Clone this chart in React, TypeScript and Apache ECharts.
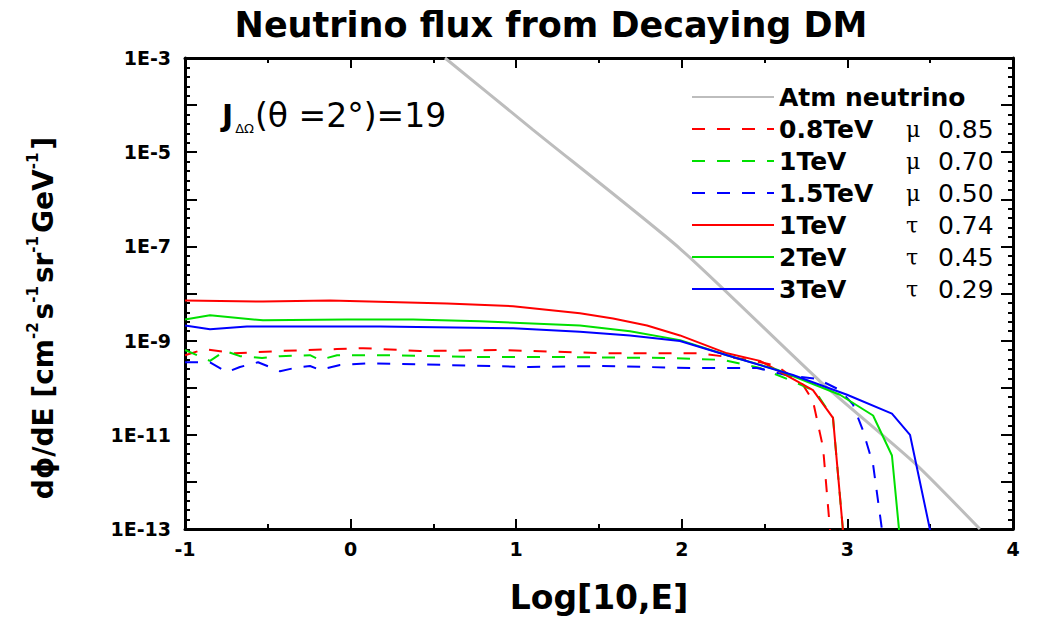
import React, { useEffect, useRef } from "react";
import * as echarts from "echarts";

const SANS = "'DejaVu Sans', Verdana, sans-serif";
const SERIF = "'DejaVu Serif', 'Liberation Serif', serif";

// Every point is [log10(E / GeV), log10(dϕ/dE)].
const atmNeutrino: number[][] = [
  [0.57, -3], [1.1, -4.52], [1.99, -7.05], [2.84, -9.88], [3.4, -11.58], [3.8, -13],
];

const mu08TeV: number[][] = [
  [-1, -9.31], [-0.879, -9.18], [-0.698, -9.27], [-0.426, -9.22], [-0.082, -9.18],
  [0.075, -9.16], [0.419, -9.22], [0.902, -9.2], [1.548, -9.27], [2.11, -9.27],
  [2.412, -9.41], [2.575, -9.54], [2.732, -9.94], [2.792, -10.28], [2.853, -11.27],
  [2.895, -13.02],
];

const mu1TeV: number[][] = [
  [-1, -9.2], [-0.849, -9.43], [-0.758, -9.22], [-0.668, -9.33], [-0.535, -9.37],
  [-0.426, -9.33], [-0.245, -9.31], [-0.185, -9.41], [-0.082, -9.31], [0.238, -9.31],
  [0.781, -9.35], [1.283, -9.35], [1.929, -9.37], [2.249, -9.41], [2.472, -9.58],
  [2.653, -9.84], [2.804, -10.07], [2.913, -10.64], [2.973, -13.02],
];

const mu15TeV: number[][] = [
  [-1, -9.46], [-0.849, -9.46], [-0.746, -9.67], [-0.668, -9.56], [-0.559, -9.46],
  [-0.426, -9.65], [-0.336, -9.58], [-0.245, -9.54], [-0.185, -9.62], [-0.064, -9.52],
  [0.117, -9.48], [0.6, -9.52], [1.083, -9.56], [1.506, -9.54], [2.05, -9.58],
  [2.454, -9.58], [2.653, -9.75], [2.816, -9.81], [2.955, -10.05], [3.034, -10.36],
  [3.094, -10.91], [3.155, -11.63], [3.209, -13.02],
];

const tau1TeV: number[][] = [
  [-1, -8.15], [-0.529, -8.17], [-0.124, -8.15], [0.582, -8.21], [0.981, -8.27],
  [1.385, -8.42], [1.585, -8.53], [1.79, -8.68], [1.989, -8.89], [2.273, -9.27],
  [2.472, -9.43], [2.714, -9.9], [2.792, -10.05], [2.913, -10.64], [2.973, -13.02],
];

const tau2TeV: number[][] = [
  [-1, -8.55], [-0.849, -8.46], [-0.529, -8.57], [-0.022, -8.55], [0.377, -8.55],
  [0.781, -8.59], [1.385, -8.68], [1.687, -8.8], [1.989, -8.99], [2.273, -9.31],
  [2.575, -9.62], [2.955, -10.15], [3.155, -10.59], [3.269, -11.44], [3.312, -13.02],
];

const tau3TeV: number[][] = [
  [-1, -8.68], [-0.849, -8.76], [-0.626, -8.7], [0.178, -8.7], [0.981, -8.74],
  [1.385, -8.81], [1.687, -8.89], [1.989, -9.01], [2.273, -9.31], [2.671, -9.73],
  [2.998, -10.15], [3.269, -10.55], [3.378, -11.0], [3.499, -13.02],
];

const dmCurves = [mu08TeV, mu1TeV, mu15TeV, tau1TeV, tau2TeV, tau3TeV];
const dmMasses = ["0.8TeV", "1TeV", "1.5TeV", "1TeV", "2TeV", "3TeV"];
const dmChannels = ["μ", "μ", "μ", "τ", "τ", "τ"];
const dmFractions = ["0.85", "0.70", "0.50", "0.74", "0.45", "0.29"];
const dmColors = ["#ff0000", "#00e000", "#0000ff", "#ff0000", "#00e000", "#0000ff"];
const dmDashed = [true, true, true, false, false, false];

const ATM_NAME = "Atm neutrino";
const labeledDecades = [-13, -11, -9, -7, -5, -3];

export default function App() {
  const ref = useRef<HTMLDivElement>(null);

  useEffect(() => {
    if (!ref.current) return;
    const chart = echarts.init(ref.current, undefined, { renderer: "svg" });

    const dmNames = dmMasses.map((m, i) => `${m} ${dmChannels[i]} ${dmFractions[i]}`);

    const axisLine = { show: true, onZero: false, lineStyle: { color: "#000", width: 3 } };
    const tickStyle = { color: "#000", width: 2 };

    const xCommon = {
      type: "value" as const,
      min: -1,
      max: 4,
      interval: 1,
      splitLine: { show: false },
      axisLine,
      axisTick: { show: true, inside: true, length: 10, lineStyle: tickStyle },
      minorTick: { show: true, splitNumber: 2, length: 5, lineStyle: tickStyle },
    };
    const yCommon = {
      type: "value" as const,
      min: -13,
      max: -3,
      interval: 1,
      splitLine: { show: false },
      axisLine,
      axisTick: { show: true, inside: true, length: 12, lineStyle: tickStyle },
      minorTick: { show: true, splitNumber: 5, length: 5, lineStyle: tickStyle },
    };

    const series: any[] = [
      {
        name: ATM_NAME,
        type: "line",
        data: atmNeutrino,
        showSymbol: false,
        symbol: "none",
        smooth: 0.2,
        lineStyle: { color: "#bdbdbd", width: 3 },
        itemStyle: { color: "#bdbdbd" },
        z: 1,
      },
      ...dmCurves.map((d, i) => ({
        name: dmNames[i],
        type: "line",
        data: d,
        showSymbol: false,
        symbol: "none",
        lineStyle: { color: dmColors[i], width: 2, type: dmDashed[i] ? [13, 12] : "solid" },
        itemStyle: { color: dmColors[i] },
        z: 2,
      })),
    ];

    chart.setOption({
      animation: false,
      backgroundColor: "#ffffff",
      title: {
        text: "Neutrino flux from Decaying DM",
        left: 546,
        top: 2,
        textAlign: "center",
        textStyle: { fontFamily: SANS, fontWeight: "bold", fontSize: 35, color: "#000" },
      },
      grid: { left: 185, right: 29, top: 58, bottom: 87, containLabel: false },
      xAxis: [
        {
          ...xCommon,
          position: "bottom",
          name: "Log[10,E]",
          nameLocation: "middle",
          nameGap: 52,
          nameTextStyle: { fontFamily: SANS, fontWeight: "bold", fontSize: 33, color: "#000" },
          axisLabel: {
            margin: 10,
            fontFamily: SANS,
            fontWeight: "bold",
            fontSize: 19,
            color: "#000",
          },
        },
        { ...xCommon, position: "top", axisLabel: { show: false } },
      ],
      yAxis: [
        {
          ...yCommon,
          position: "left",
          axisLabel: {
            margin: 14,
            fontFamily: SANS,
            fontWeight: "bold",
            fontSize: 19,
            color: "#000",
            formatter: (v: number) => (labeledDecades.includes(v) ? `1E${v}` : ""),
          },
        },
        { ...yCommon, position: "right", axisLabel: { show: false } },
      ],
      legend: {
        orient: "vertical",
        left: 686,
        top: 77,
        itemWidth: 82,
        itemHeight: 14,
        itemGap: 2,
        selectedMode: false,
        itemStyle: { opacity: 0 },
        data: [ATM_NAME, ...dmNames],
        textStyle: {
          color: "#000",
          fontFamily: SANS,
          lineHeight: 30,
          rich: {
            a: { fontFamily: SANS, fontWeight: "bold", fontSize: 25, color: "#000", lineHeight: 30 },
            m: { fontFamily: SANS, fontWeight: "bold", fontSize: 25, color: "#000", width: 127, lineHeight: 30 },
            c: { fontFamily: SERIF, fontSize: 22, color: "#000", width: 32, lineHeight: 30 },
            v: { fontFamily: SANS, fontSize: 25, color: "#000", lineHeight: 30 },
          },
        },
        formatter: (name: string) => {
          if (name === ATM_NAME) return `{a|${name}}`;
          const i = dmNames.indexOf(name);
          return `{m|${dmMasses[i]}}{c|${dmChannels[i]}}{v|${dmFractions[i]}}`;
        },
      },
      graphic: [
        {
          type: "text",
          left: 222,
          top: 99,
          style: {
            text: "{j|J}{s|ΔΩ}{r|(θ =2°)=19}",
            rich: {
              j: { fontFamily: SANS, fontWeight: "bold", fontSize: 30, fill: "#000", lineHeight: 38 },
              s: { fontFamily: SANS, fontSize: 13, fill: "#000", verticalAlign: "bottom", lineHeight: 14, padding: [0, 1, 0, 2] },
              r: { fontFamily: SANS, fontSize: 33, fill: "#000", lineHeight: 38 },
            },
          },
        },
        {
          type: "text",
          x: 43,
          y: 318,
          rotation: Math.PI / 2,
          style: {
            text: "{b|dϕ/dE [cm}{p|-2}{b|s}{p|-1}{b|sr}{p|-1}{b|GeV}{p|-1}{b|]}",
            align: "center",
            verticalAlign: "middle",
            rich: {
              b: { fontFamily: SANS, fontWeight: "bold", fontSize: 28, fill: "#000", lineHeight: 36 },
              p: {
                fontFamily: SANS,
                fontWeight: "bold",
                fontSize: 15,
                fill: "#000",
                verticalAlign: "top",
                lineHeight: 16,
                padding: [0, 3, 0, 0],
              },
            },
          },
        },
      ],
      series,
    });

    return () => chart.dispose();
  }, []);

  return (
    <div
      ref={ref}
      style={{ position: "fixed", left: 0, top: 0, width: 1042, height: 619, background: "#fff" }}
    />
  );
}
